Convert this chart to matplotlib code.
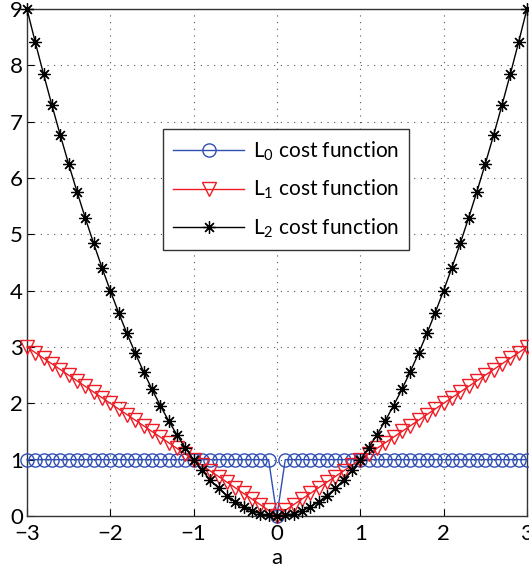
import matplotlib
matplotlib.use("Agg")
import matplotlib.pyplot as plt

plt.rcParams['font.family'] = ['Lato', 'DejaVu Sans']
plt.rcParams['mathtext.fontset'] = 'custom'
plt.rcParams['mathtext.rm'] = 'Lato'
plt.rcParams['mathtext.it'] = 'Lato'

a_values = [-3.0, -2.9, -2.8, -2.7, -2.6, -2.5, -2.4, -2.3, -2.2, -2.1,
            -2.0, -1.9, -1.8, -1.7, -1.6, -1.5, -1.4, -1.3, -1.2, -1.1,
            -1.0, -0.9, -0.8, -0.7, -0.6, -0.5, -0.4, -0.3, -0.2, -0.1,
            0.0, 0.1, 0.2, 0.3, 0.4, 0.5, 0.6, 0.7, 0.8, 0.9,
            1.0, 1.1, 1.2, 1.3, 1.4, 1.5, 1.6, 1.7, 1.8, 1.9,
            2.0, 2.1, 2.2, 2.3, 2.4, 2.5, 2.6, 2.7, 2.8, 2.9, 3.0]

l0_cost = [1, 1, 1, 1, 1, 1, 1, 1, 1, 1,
           1, 1, 1, 1, 1, 1, 1, 1, 1, 1,
           1, 1, 1, 1, 1, 1, 1, 1, 1, 1,
           0, 1, 1, 1, 1, 1, 1, 1, 1, 1,
           1, 1, 1, 1, 1, 1, 1, 1, 1, 1,
           1, 1, 1, 1, 1, 1, 1, 1, 1, 1, 1]

l1_cost = [3.0, 2.9, 2.8, 2.7, 2.6, 2.5, 2.4, 2.3, 2.2, 2.1,
           2.0, 1.9, 1.8, 1.7, 1.6, 1.5, 1.4, 1.3, 1.2, 1.1,
           1.0, 0.9, 0.8, 0.7, 0.6, 0.5, 0.4, 0.3, 0.2, 0.1,
           0.0, 0.1, 0.2, 0.3, 0.4, 0.5, 0.6, 0.7, 0.8, 0.9,
           1.0, 1.1, 1.2, 1.3, 1.4, 1.5, 1.6, 1.7, 1.8, 1.9,
           2.0, 2.1, 2.2, 2.3, 2.4, 2.5, 2.6, 2.7, 2.8, 2.9, 3.0]

l2_cost = [9.00, 8.41, 7.84, 7.29, 6.76, 6.25, 5.76, 5.29, 4.84, 4.41,
           4.00, 3.61, 3.24, 2.89, 2.56, 2.25, 1.96, 1.69, 1.44, 1.21,
           1.00, 0.81, 0.64, 0.49, 0.36, 0.25, 0.16, 0.09, 0.04, 0.01,
           0.00, 0.01, 0.04, 0.09, 0.16, 0.25, 0.36, 0.49, 0.64, 0.81,
           1.00, 1.21, 1.44, 1.69, 1.96, 2.25, 2.56, 2.89, 3.24, 3.61,
           4.00, 4.41, 4.84, 5.29, 5.76, 6.25, 6.76, 7.29, 7.84, 8.41, 9.00]

labels = [r'L$_0$ cost function', r'L$_1$ cost function', r'L$_2$ cost function']
x_ticks = [-3, -2, -1, 0, 1, 2, 3]
y_ticks = [0, 1, 2, 3, 4, 5, 6, 7, 8, 9]

fig = plt.figure(figsize=(5.29, 5.72), dpi=100)
ax = fig.add_axes([0.051, 0.098, 0.945, 0.886])

blue = '#2f4fb5'
red = '#ee1c24'
ax.plot(a_values, l0_cost, color=blue, lw=1.0, marker='o', ms=9.5,
        mfc='none', mec=blue, mew=1.0, clip_on=False, label=labels[0], zorder=3)
ax.plot(a_values, l1_cost, color=red, lw=1.0, marker='v', ms=10,
        mfc='none', mec=red, mew=1.0, clip_on=False, label=labels[1], zorder=4)
ax.plot(a_values, l2_cost, color='black', lw=1.0, marker=(8, 2, 0), ms=9,
        mec='black', mew=0.9, clip_on=False, label=labels[2], zorder=5)

ax.set_xlim(-3, 3)
ax.set_ylim(0, 9)
ax.set_xticks(x_ticks)
ax.set_yticks(y_ticks)
ax.set_xticklabels(['\u22123', '\u22122', '\u22121', '0', '1', '2', '3'])
ax.tick_params(direction='in', length=5, labelsize=16, width=0.8)
ax.tick_params(axis='x', pad=6)
ax.tick_params(axis='y', pad=3)
ax.grid(True, linestyle=(0, (1, 5)), color='#555555', linewidth=0.8)
ax.set_axisbelow(True)
for s in ax.spines.values():
    s.set_linewidth(1.0)
    s.set_color('#333333')
ax.set_xlabel('a', fontsize=16, labelpad=3)

leg = ax.legend(loc='upper left', bbox_to_anchor=(0.272, 0.763), fontsize=15,
                handlelength=3.4, handletextpad=0.4, labelspacing=0.72,
                borderpad=0.5, borderaxespad=0, fancybox=False, framealpha=1,
                edgecolor='#333333')
leg.get_frame().set_linewidth(1.0)

fig.savefig('out.png', dpi=100)
